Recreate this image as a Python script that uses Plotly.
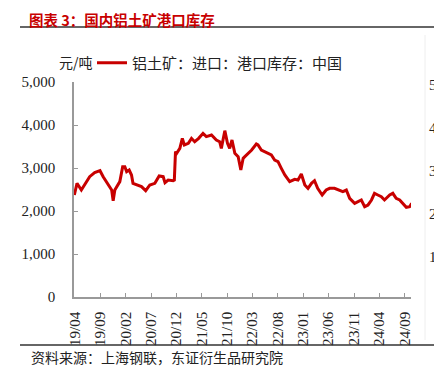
import plotly.graph_objects as go

dates = [
    "2019-03-29", "2019-04-14", "2019-05-10", "2019-05-30", "2019-06-29", "2019-07-29",
    "2019-08-30", "2019-09-18", "2019-10-18", "2019-11-08", "2019-11-17", "2019-11-27",
    "2019-12-27", "2020-01-13", "2020-01-26", "2020-02-06", "2020-02-21", "2020-03-06",
    "2020-03-15", "2020-04-05", "2020-05-05", "2020-05-30", "2020-06-24", "2020-07-24",
    "2020-08-19", "2020-09-12", "2020-09-23", "2020-10-12", "2020-11-11", "2020-11-18",
    "2020-11-25", "2020-12-02", "2020-12-21", "2021-01-05", "2021-01-17", "2021-02-10",
    "2021-03-01", "2021-03-20", "2021-04-13", "2021-05-09", "2021-05-29", "2021-06-29",
    "2021-07-28", "2021-08-17", "2021-08-27", "2021-09-17", "2021-10-03", "2021-10-16",
    "2021-10-30", "2021-11-16", "2021-12-06", "2021-12-22", "2022-01-05", "2022-01-15",
    "2022-02-04", "2022-02-25", "2022-03-25", "2022-04-04", "2022-04-24", "2022-05-14",
    "2022-06-03", "2022-06-23", "2022-07-13", "2022-08-02", "2022-08-22", "2022-09-12",
    "2022-10-11", "2022-11-10", "2022-11-30", "2022-12-20", "2023-01-10", "2023-01-29",
    "2023-02-19", "2023-03-09", "2023-03-28", "2023-04-24", "2023-05-18", "2023-06-08",
    "2023-07-07", "2023-07-27", "2023-08-26", "2023-09-16", "2023-10-06", "2023-11-05",
    "2023-11-25", "2023-12-15", "2024-01-04", "2024-01-24", "2024-02-14", "2024-03-03",
    "2024-03-23", "2024-04-13", "2024-05-02", "2024-06-02", "2024-06-21", "2024-07-11",
    "2024-08-01", "2024-08-21", "2024-09-10", "2024-09-30", "2024-10-12",
]
values = [
    2372, 2644, 2488, 2605, 2798, 2891,
    2937, 2798, 2605, 2488, 2240, 2488,
    2683, 3031, 3031, 2915, 2953, 2837,
    2644, 2605, 2566, 2473, 2605, 2644,
    2814, 2798, 2659, 2721, 2705, 2720,
    3380, 3341, 3457, 3690, 3535, 3574,
    3690, 3612, 3690, 3806, 3729, 3767,
    3651, 3612, 3457, 3868, 3574, 3457,
    3651, 3341, 3263, 2953, 3225, 3263,
    3341, 3419, 3558, 3535, 3419, 3380,
    3341, 3302, 3186, 3147, 2992, 2837,
    2683, 2737, 2721, 2860, 2605, 2528,
    2644, 2705, 2528, 2372, 2488, 2528,
    2528, 2504, 2450, 2488, 2295, 2178,
    2217, 2256, 2101, 2140, 2256, 2411,
    2372, 2333, 2256, 2372, 2411, 2295,
    2256, 2178, 2086, 2101, 2178,
]

tick_dates = ["2019-04-01", "2019-09-01", "2020-02-01", "2020-07-01", "2020-12-01",
              "2021-05-01", "2021-10-01", "2022-03-01", "2022-08-01", "2023-01-01",
              "2023-06-01", "2023-11-01", "2024-04-01", "2024-09-01"]
tick_labels = ["19/04", "19/09", "20/02", "20/07", "20/12", "21/05", "21/10",
               "22/03", "22/08", "23/01", "23/06", "23/11", "24/04", "24/09"]
y_ticks = [0, 1000, 2000, 3000, 4000, 5000]
y_labels = ["0", "1,000", "2,000", "3,000", "4,000", "5,000"]
right_labels = ["5", "4", "3", "2", "1"]
right_values = [5000, 4000, 3000, 2000, 1000]

series_name = "铝土矿：进口：港口库存：中国"
title_text = "图表 3：国内铝土矿港口库存"
source_text = "资料来源：上海钢联，东证衍生品研究院"
unit_text = "元/吨"

RED = "#C80000"
CJK = "Noto Sans CJK SC"
SERIF = "Liberation Serif"

# page body has an 8px default margin; layout coordinates below are in
# reference-image pixels and shifted by that offset
OFF = 8
W, H = 442 - OFF, 381 - OFF
L, R, T, B = 74 - OFF, 411 - OFF, 82 - OFF, 297 - OFF
pw, ph = R - L, B - T

def px(x):
    return (x - OFF - L) / pw

def py(y):
    return (B - (y - OFF)) / ph

fig = go.Figure()
fig.add_trace(go.Scatter(
    x=dates, y=values, mode="lines", name=series_name,
    line=dict(color=RED, width=3),
))

fig.update_layout(
    width=W, height=H,
    margin=dict(l=L, r=W - R, t=T, b=H - B, pad=0),
    paper_bgcolor="white", plot_bgcolor="white",
    showlegend=True,
    legend=dict(orientation="h", x=px(92), y=py(63), xanchor="left", yanchor="middle",
                font=dict(family=CJK, size=15, color="#222"),
                bgcolor="rgba(0,0,0,0)", itemwidth=30),
    xaxis=dict(type="date", range=["2019-03-27", "2024-10-08"],
               tickvals=tick_dates, ticktext=tick_labels, tickangle=-90,
               ticks="inside", ticklen=4, tickcolor="#999", tickwidth=1,
               showline=True, linecolor="#999", linewidth=1.5,
               showgrid=False, zeroline=False,
               tickfont=dict(family=SERIF, size=15, color="#222"),
               ticklabelstandoff=7),
    yaxis=dict(range=[0, 5000], tickvals=y_ticks, ticktext=y_labels,
               ticks="inside", ticklen=4, tickcolor="#999", tickwidth=1,
               showline=True, linecolor="#999", linewidth=1.5,
               showgrid=False, zeroline=False,
               tickfont=dict(family=SERIF, size=15, color="#222"),
               ticklabelstandoff=14),
)

annotations = [
    dict(text=title_text, x=px(28), y=py(8.2), xref="paper", yref="paper",
         xanchor="left", yanchor="top", showarrow=False, borderpad=0,
         font=dict(family=CJK, size=14.5, color=RED, weight="bold")),
    dict(text=source_text, x=px(29), y=py(357), xref="paper", yref="paper",
         xanchor="left", yanchor="middle", showarrow=False,
         font=dict(family=CJK, size=14, color="#222")),
    dict(text=unit_text, x=px(95), y=py(62), xref="paper", yref="paper",
         xanchor="right", yanchor="middle", showarrow=False,
         font=dict(family=CJK, size=14, color="#222")),
]
for lab, v in zip(right_labels, right_values):
    annotations.append(dict(text=lab, x=px(427), y=v, xref="paper", yref="y",
                            yshift=-3, xanchor="left", yanchor="middle", showarrow=False,
                            font=dict(family=SERIF, size=15, color="#222")))
fig.update_layout(annotations=annotations)

fig.add_shape(type="line", xref="paper", yref="paper", x0=px(20), x1=px(437),
              y0=py(27), y1=py(27), line=dict(color="#333", width=1.5))
fig.add_shape(type="line", xref="paper", yref="paper", x0=px(20), x1=px(437),
              y0=py(345), y1=py(345), line=dict(color="#333", width=1.5))
fig.add_shape(type="line", xref="paper", yref="paper", x0=px(425), x1=px(425),
              y0=py(35), y1=py(340), line=dict(color="#eeeeee", width=1))

fig.write_html("out.html")
